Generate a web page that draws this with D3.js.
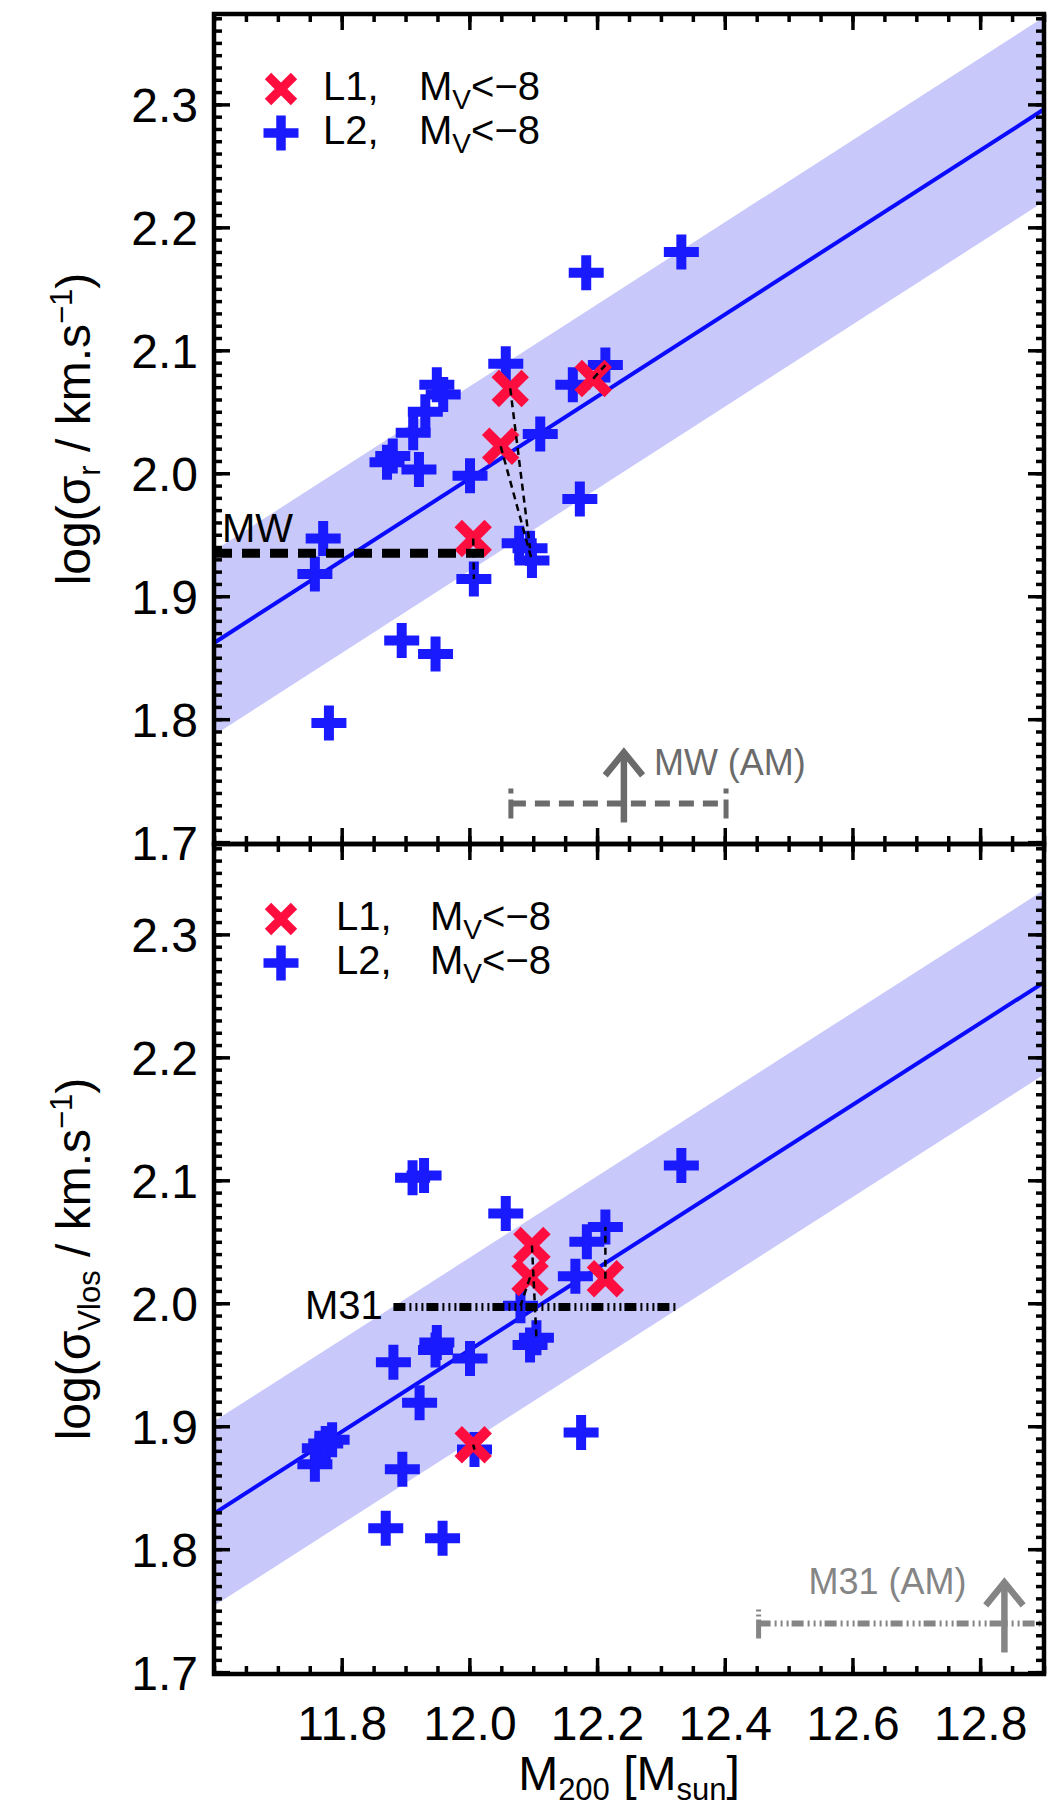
<!DOCTYPE html>
<html>
<head>
<meta charset="utf-8">
<script src="https://cdn.jsdelivr.net/npm/d3@7"></script>
<style>
  body { margin: 0; background: #fff; }
  svg text { font-family: "Liberation Sans", Arial, Helvetica, sans-serif; }
</style>
</head>
<body>
<div id="chart"></div>
<script>
// halo mass vs velocity dispersion, two panels (sigma_r on top, sigma_los below)
// points are [log M200, log sigma]
var topL2 = [
  [12.183, 2.163], [12.057, 2.089], [12.213, 2.088], [12.162, 2.072],
  [11.949, 2.072], [11.959, 2.064], [11.931, 2.050], [11.912, 2.033],
  [11.880, 2.014], [11.871, 2.009], [11.921, 2.003], [12.111, 2.032],
  [12.001, 1.998], [12.173, 1.979], [11.771, 1.947], [11.758, 1.918],
  [12.078, 1.943], [12.095, 1.939], [12.098, 1.929], [12.007, 1.914],
  [11.894, 1.864], [11.947, 1.853], [11.780, 1.797], [12.332, 2.180]
];
var topL1 = [[12.064, 2.069], [12.049, 2.022], [12.006, 1.947], [12.194, 2.077]];
// L1 index -> L2 index (same halo)
var topLinks = [[0, 17], [1, 18], [2, 19], [3, 2]];

var botL2 = [
  [11.911, 2.102], [11.929, 2.104], [12.057, 2.073], [12.213, 2.062],
  [12.184, 2.050], [12.166, 2.022], [12.080, 1.998], [12.105, 1.972],
  [12.095, 1.966], [11.881, 1.952], [11.949, 1.968], [11.947, 1.962],
  [12.001, 1.955], [11.922, 1.919], [11.758, 1.869], [11.765, 1.882],
  [11.775, 1.886], [11.785, 1.889], [11.895, 1.865], [12.008, 1.881],
  [11.869, 1.817], [11.958, 1.809], [12.175, 1.895], [12.332, 2.112]
];
var botL1 = [[12.098, 2.047], [12.095, 2.021], [12.213, 2.020], [12.006, 1.885]];
var botLinks = [[0, 7], [1, 6], [2, 3], [3, 19]];

// fit lines (end points) and scatter band half width
var fitTop = [[11.6, 1.862], [12.9, 2.296]];
var fitBot = [[11.6, 1.829], [12.9, 2.261]];
var bandHalf = 0.075;

// observed MW / M31 values
var mwSigma = 1.935, mwMass = [11.6, 12.03];
var m31Sigma = 1.997, m31Mass = [11.881, 12.326];
// abundance matching ranges: [low, central, high]
var mwAM = [12.065, 12.242, 12.402], mwAMSigma = 1.7315;
var m31AM = [12.453, 12.838, 13.0], m31AMSigma = 1.7396;
var arrowSigma = [1.716, 1.773];

var xTicks = [11.8, 12.0, 12.2, 12.4, 12.6, 12.8];
var yTicks = [1.7, 1.8, 1.9, 2.0, 2.1, 2.2, 2.3];

var W = 1063, H = 1810;
var panelH = 830;
var blue = "#1a1aff", red = "#ff0d3f", band = "#c8c8fa";

var svg = d3.select("#chart").append("svg")
  .attr("width", W).attr("height", H);

var x = d3.scaleLinear().domain([11.6, 12.9]).range([214, 1044]);

svg.append("clipPath").attr("id", "clipTop")
  .append("rect").attr("x", 214).attr("y", 14).attr("width", 830).attr("height", panelH);
svg.append("clipPath").attr("id", "clipBot")
  .append("rect").attr("x", 214).attr("y", 844).attr("width", 830).attr("height", panelH);

var plusPath = "M-17.5,0H17.5M0,-17.5V17.5";
var crossPath = "M-15,-15L15,15M-15,15L15,-15";

function drawPanel(top, clipId, l1, l2, links, fit) {
  var y = d3.scaleLinear().domain([1.6985, 2.3735]).range([top + panelH, top]);
  var g = svg.append("g");
  var data = g.append("g").attr("clip-path", "url(#" + clipId + ")");

  // scatter band + fit
  var area = d3.area().x(d => x(d[0])).y0(d => y(d[1] - bandHalf)).y1(d => y(d[1] + bandHalf));
  data.append("path").datum(fit).attr("d", area).attr("fill", band);
  data.append("path").datum(fit)
    .attr("d", d3.line().x(d => x(d[0])).y(d => y(d[1])))
    .attr("fill", "none").attr("stroke", "#0a0aff").attr("stroke-width", 4);

  data.selectAll(".l2").data(l2).join("path")
    .attr("class", "l2")
    .attr("d", plusPath)
    .attr("transform", d => "translate(" + x(d[0]) + "," + y(d[1]) + ")")
    .attr("stroke", blue).attr("stroke-width", 10).attr("fill", "none");

  data.selectAll(".l1").data(l1).join("path")
    .attr("class", "l1")
    .attr("d", crossPath)
    .attr("transform", d => "translate(" + x(d[0]) + "," + y(d[1]) + ")")
    .attr("stroke", red).attr("stroke-width", 10.5).attr("fill", "none");

  // links between L1 and L2 version of same halo
  data.selectAll(".link").data(links).join("line")
    .attr("class", "link")
    .attr("x1", d => x(l1[d[0]][0])).attr("y1", d => y(l1[d[0]][1]))
    .attr("x2", d => x(l2[d[1]][0])).attr("y2", d => y(l2[d[1]][1]))
    .attr("stroke", "#000").attr("stroke-width", 2.5).attr("stroke-dasharray", "7,5");

  return {g: g, data: data, y: y};
}

function drawAxes(p, top, showX) {
  var g = p.g, y = p.y;
  var bottom = top + panelH;
  var xMinor = d3.range(0, 27).map(i => 11.6 + i * 0.05);
  var yMinor = d3.range(170, 238).map(i => i / 100);

  function ticks(axis, tx, ty) {
    var a = g.append("g").attr("transform", "translate(" + tx + "," + ty + ")").call(axis);
    a.select(".domain").remove();
    a.selectAll("line").attr("stroke", "#000").attr("stroke-width", 3.5);
    return a;
  }
  ticks(d3.axisBottom(x).tickValues(xMinor).tickSizeInner(-8).tickSizeOuter(0).tickFormat(""), 0, bottom);
  ticks(d3.axisTop(x).tickValues(xMinor).tickSizeInner(-8).tickSizeOuter(0).tickFormat(""), 0, top);
  ticks(d3.axisTop(x).tickValues(xTicks).tickSizeInner(-16).tickSizeOuter(0).tickFormat(""), 0, top);
  var xb = ticks(d3.axisBottom(x).tickValues(xTicks).tickSizeInner(-16).tickSizeOuter(0).tickPadding(32)
    .tickFormat(showX ? d3.format(".1f") : ""), 0, bottom);
  xb.attr("font-size", 48).attr("font-family", null);
  xb.selectAll("text").attr("fill", "#000");

  ticks(d3.axisLeft(y).tickValues(yMinor).tickSizeInner(-8).tickSizeOuter(0).tickFormat(""), 214, 0);
  ticks(d3.axisRight(y).tickValues(yMinor).tickSizeInner(-8).tickSizeOuter(0).tickFormat(""), 1044, 0);
  ticks(d3.axisRight(y).tickValues(yTicks).tickSizeInner(-16).tickSizeOuter(0).tickFormat(""), 1044, 0);
  var yl = ticks(d3.axisLeft(y).tickValues(yTicks).tickSizeInner(-16).tickSizeOuter(0).tickPadding(16)
    .tickFormat(d3.format(".1f")), 214, 0);
  yl.attr("font-size", 48).attr("font-family", null);
  yl.selectAll("text").attr("fill", "#000").attr("dy", "0.36em");

  g.append("rect").attr("x", 214).attr("y", top).attr("width", 830).attr("height", panelH)
    .attr("fill", "none").attr("stroke", "#000").attr("stroke-width", 4.5);
}

function legend(g, top, textX, mX) {
  g.append("path").attr("d", "M-13,-13L13,13M-13,13L13,-13")
    .attr("transform", "translate(281," + (top + 75) + ")")
    .attr("stroke", red).attr("stroke-width", 9).attr("fill", "none");
  g.append("path").attr("d", plusPath)
    .attr("transform", "translate(281," + (top + 119) + ")")
    .attr("stroke", blue).attr("stroke-width", 9.5).attr("fill", "none");
  ["L1,", "L2,"].forEach(function(lab, i) {
    var by = top + 86 + i * 44;
    g.append("text").attr("x", textX).attr("y", by).attr("font-size", 40).text(lab);
    var t = g.append("text").attr("x", mX).attr("y", by).attr("font-size", 40);
    t.append("tspan").text("M");
    t.append("tspan").attr("font-size", 28).attr("dy", 9).text("V");
    t.append("tspan").attr("dy", -9).text("<\u22128");
  });
}

function yLabel(top, sub) {
  var t = svg.append("text")
    .attr("transform", "translate(90," + (top + panelH / 2) + ") rotate(-90)")
    .attr("text-anchor", "middle").attr("font-size", 48);
  t.append("tspan").text("log(\u03c3");
  t.append("tspan").attr("font-size", 31).attr("dy", 10).text(sub);
  t.append("tspan").attr("dy", -10).text(" / km.s");
  t.append("tspan").attr("font-size", 31).attr("dy", -18).text("\u22121");
  t.append("tspan").attr("dy", 18).text(")");
}

function upArrow(g, xv, y, color) {
  var ax = x(xv), y0 = y(arrowSigma[0]), y1 = y(arrowSigma[1]);
  g.append("line").attr("x1", ax).attr("x2", ax).attr("y1", y0).attr("y2", y1 + 2)
    .attr("stroke", color).attr("stroke-width", 6.5);
  g.append("path")
    .attr("d", "M" + (ax - 18.7) + "," + (y1 + 23) + "L" + ax + "," + y1 + "L" + (ax + 18.7) + "," + (y1 + 23))
    .attr("fill", "none").attr("stroke", color).attr("stroke-width", 6.5);
}

// ---- top panel: sigma_r
var pTop = drawPanel(14, "clipTop", topL1, topL2, topLinks, fitTop);
var yT = pTop.y;
pTop.data.append("line")
  .attr("x1", x(mwMass[0])).attr("x2", x(mwMass[1]))
  .attr("y1", yT(mwSigma)).attr("y2", yT(mwSigma))
  .attr("stroke", "#000").attr("stroke-width", 9).attr("stroke-dasharray", "18,10");
svg.append("text").attr("x", 222).attr("y", yT(mwSigma) - 11).attr("font-size", 40).text("MW");

var mwGray = "#6b6b6b";
pTop.data.append("line")
  .attr("x1", x(mwAM[0])).attr("x2", x(mwAM[2]))
  .attr("y1", yT(mwAMSigma)).attr("y2", yT(mwAMSigma))
  .attr("stroke", mwGray).attr("stroke-width", 6).attr("stroke-dasharray", "15,9");
[mwAM[0], mwAM[2]].forEach(function(v) {
  pTop.data.append("line").attr("x1", x(v)).attr("x2", x(v))
    .attr("y1", yT(mwAMSigma) - 15).attr("y2", yT(mwAMSigma) + 15)
    .attr("stroke", mwGray).attr("stroke-width", 5).attr("stroke-dasharray", "5,6,19");
});
upArrow(pTop.data, mwAM[1], yT, mwGray);
svg.append("text").attr("x", x(mwAM[1]) + 30).attr("y", yT(mwAMSigma) - 28)
  .attr("font-size", 36).attr("fill", mwGray).text("MW (AM)");

drawAxes(pTop, 14, false);
legend(pTop.g, 14, 323, 419);
yLabel(14, "r");

// ---- bottom panel: sigma_los
var pBot = drawPanel(844, "clipBot", botL1, botL2, botLinks, fitBot);
var yB = pBot.y;
pBot.data.append("line")
  .attr("x1", x(m31Mass[0])).attr("x2", x(m31Mass[1]))
  .attr("y1", yB(m31Sigma)).attr("y2", yB(m31Sigma))
  .attr("stroke", "#000").attr("stroke-width", 8).attr("stroke-dasharray", "12,4,2,4,2,4,2,3");
svg.append("text").attr("x", 305).attr("y", yB(m31Sigma) + 12).attr("font-size", 40).text("M31");

var m31Gray = "#858585";
pBot.data.append("line")
  .attr("x1", x(m31AM[0])).attr("x2", x(m31AM[2]))
  .attr("y1", yB(m31AMSigma)).attr("y2", yB(m31AMSigma))
  .attr("stroke", m31Gray).attr("stroke-width", 6).attr("stroke-dasharray", "12,4,2,4,2,4,2,3");
pBot.data.append("line").attr("x1", x(m31AM[0])).attr("x2", x(m31AM[0]))
  .attr("y1", yB(m31AMSigma) - 14).attr("y2", yB(m31AMSigma) + 15)
  .attr("stroke", m31Gray).attr("stroke-width", 5).attr("stroke-dasharray", "2,3,2,3,19");
upArrow(pBot.data, m31AM[1], yB, m31Gray);
svg.append("text").attr("x", x(m31AM[1]) - 38).attr("y", yB(m31AMSigma) - 29)
  .attr("text-anchor", "end").attr("font-size", 36).attr("fill", m31Gray).text("M31 (AM)");

drawAxes(pBot, 844, true);
legend(pBot.g, 844, 336, 430);
yLabel(844, "Vlos");

// x title
var xt = svg.append("text").attr("x", 629).attr("y", 1790)
  .attr("text-anchor", "middle").attr("font-size", 48);
xt.append("tspan").text("M");
xt.append("tspan").attr("font-size", 31).attr("dy", 10).text("200");
xt.append("tspan").attr("dy", -10).text(" [M");
xt.append("tspan").attr("font-size", 31).attr("dy", 10).text("sun");
xt.append("tspan").attr("dy", -10).text("]");
</script>
</body>
</html>
